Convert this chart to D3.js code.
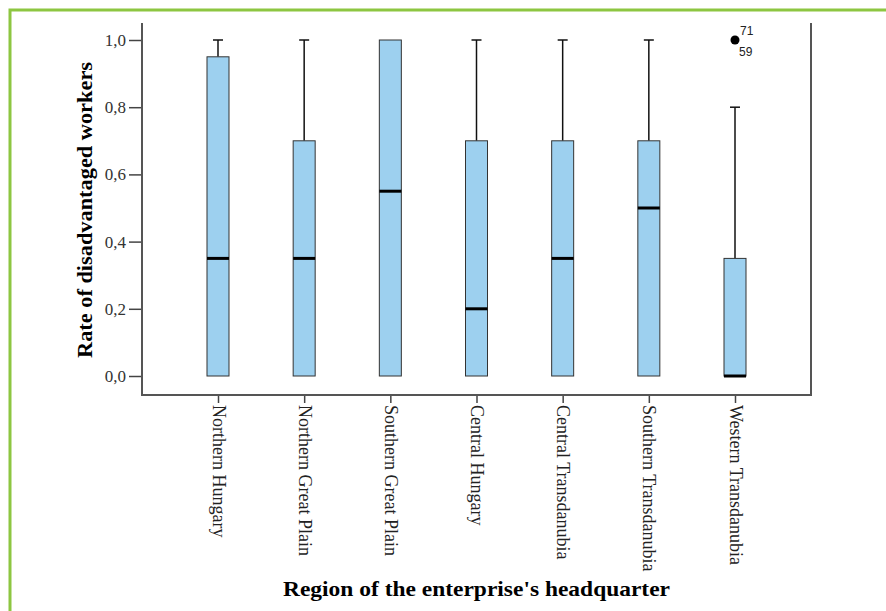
<!DOCTYPE html>
<html>
<head>
<meta charset="utf-8">
<script src="https://cdn.jsdelivr.net/npm/d3@7"></script>
<style>
  html, body { margin: 0; padding: 0; background: #fff; }
  svg { display: block; }
</style>
</head>
<body>
<div id="chart"></div>
<script>
const categories = ["Northern Hungary", "Northern Great Plain", "Southern Great Plain",
  "Central Hungary", "Central Transdanubia", "Southern Transdanubia", "Western Transdanubia"];
const whiskerLow = [0, 0, 0, 0, 0, 0, 0];
const q1 = [0, 0, 0, 0, 0, 0, 0];
const median = [0.35, 0.35, 0.55, 0.2, 0.35, 0.5, 0];
const q3 = [0.95, 0.7, 1.0, 0.7, 0.7, 0.7, 0.35];
const whiskerHigh = [1.0, 1.0, 1.0, 1.0, 1.0, 1.0, 0.8];
const outliers = [{ cat: "Western Transdanubia", value: 1.0, ids: ["71", "59"] }];
const yTicks = [0, 0.2, 0.4, 0.6, 0.8, 1.0];

const width = 886, height = 611;
const plot = { left: 142, right: 811, top: 23, bottom: 395 };
const serif = '"Liberation Serif", "Times New Roman", serif';

const svg = d3.select('#chart').append('svg')
  .attr('width', width).attr('height', height);

// green frame around the figure
svg.append('path')
  .attr('d', `M10,${height} L10,10 L${width},10`)
  .attr('fill', 'none').attr('stroke', '#8dc641').attr('stroke-width', 3);

const x = d3.scalePoint().domain(categories).range([plot.left, plot.right]).padding(0.882);
const y = d3.scaleLinear().domain([0, 1]).range([376, 40]);

const fmt = d => d3.format('.1f')(d).replace('.', ',');

// y axis
const yAxis = svg.append('g').attr('transform', `translate(${plot.left},0)`)
  .call(d3.axisLeft(y).tickValues(yTicks).tickFormat(fmt).tickSize(13).tickPadding(3));
yAxis.select('.domain').remove();
yAxis.selectAll('line').attr('stroke', '#444').attr('stroke-width', 1.5);
yAxis.selectAll('text').attr('fill', '#333')
  .attr('font-family', serif).attr('font-size', '17px');

// x axis
const xAxis = svg.append('g').attr('transform', `translate(0,${plot.bottom})`)
  .call(d3.axisBottom(x).tickSize(8));
xAxis.select('.domain').remove();
xAxis.selectAll('line').attr('stroke', '#444').attr('stroke-width', 1.5);
xAxis.selectAll('text')
  .attr('fill', '#222')
  .attr('font-family', serif).attr('font-size', '18px')
  .attr('text-anchor', 'start')
  .attr('transform', 'rotate(90)')
  .attr('x', 10).attr('y', 0).attr('dy', '0.33em');

// frame lines (left, bottom, right)
svg.append('path')
  .attr('d', `M${plot.left},${plot.top} L${plot.left},${plot.bottom} L${plot.right},${plot.bottom} L${plot.right},${plot.top}`)
  .attr('fill', 'none').attr('stroke', '#555').attr('stroke-width', 2);

// boxes
const boxW = 22, capW = 10;
const boxes = categories.map((c, i) => ({
  cat: c, lo: whiskerLow[i], q1: q1[i], med: median[i], q3: q3[i], hi: whiskerHigh[i]
}));

const bg = svg.append('g');
boxes.forEach(d => {
  const cx = x(d.cat);
  // upper whisker
  if (d.hi > d.q3) {
    bg.append('line').attr('x1', cx).attr('x2', cx).attr('y1', y(d.q3)).attr('y2', y(d.hi))
      .attr('stroke', '#111').attr('stroke-width', 1.5);
    bg.append('line').attr('x1', cx - capW / 2).attr('x2', cx + capW / 2).attr('y1', y(d.hi)).attr('y2', y(d.hi))
      .attr('stroke', '#111').attr('stroke-width', 1.5);
  }
  if (d.lo < d.q1) {
    bg.append('line').attr('x1', cx).attr('x2', cx).attr('y1', y(d.q1)).attr('y2', y(d.lo))
      .attr('stroke', '#111').attr('stroke-width', 1.5);
    bg.append('line').attr('x1', cx - capW / 2).attr('x2', cx + capW / 2).attr('y1', y(d.lo)).attr('y2', y(d.lo))
      .attr('stroke', '#111').attr('stroke-width', 1.5);
  }
  bg.append('rect')
    .attr('x', cx - boxW / 2).attr('y', y(d.q3))
    .attr('width', boxW).attr('height', y(d.q1) - y(d.q3))
    .attr('fill', '#9dd0ef').attr('stroke', '#333').attr('stroke-width', 1);
  bg.append('line').attr('x1', cx - boxW / 2).attr('x2', cx + boxW / 2)
    .attr('y1', y(d.med)).attr('y2', y(d.med))
    .attr('stroke', '#000').attr('stroke-width', 3);
});

// outliers
outliers.forEach(o => {
  const cx = x(o.cat), cy = y(o.value);
  svg.append('circle').attr('cx', cx).attr('cy', cy).attr('r', 4.5).attr('fill', '#000');
  svg.append('text').attr('x', cx + 5).attr('y', cy - 5)
    .attr('font-family', 'Arial, "Liberation Sans", sans-serif').attr('font-size', '12px')
    .attr('fill', '#222').text(o.ids[0]);
  svg.append('text').attr('x', cx + 4).attr('y', cy + 16)
    .attr('font-family', 'Arial, "Liberation Sans", sans-serif').attr('font-size', '12px')
    .attr('fill', '#222').text(o.ids[1]);
});

// axis titles
svg.append('text')
  .attr('transform', `translate(92,${(plot.top + plot.bottom) / 2 + 1}) rotate(-90)`)
  .attr('text-anchor', 'middle')
  .attr('font-family', serif)
  .attr('font-size', '21px').attr('font-weight', 'bold').attr('fill', '#000')
  .attr('textLength', 296).attr('lengthAdjust', 'spacingAndGlyphs')
  .text('Rate of disadvantaged workers');

svg.append('text')
  .attr('x', (plot.left + plot.right) / 2).attr('y', 596)
  .attr('text-anchor', 'middle')
  .attr('font-family', serif)
  .attr('font-size', '21px').attr('font-weight', 'bold').attr('fill', '#000')
  .attr('textLength', 387).attr('lengthAdjust', 'spacingAndGlyphs')
  .text("Region of the enterprise's headquarter");
</script>
</body>
</html>
